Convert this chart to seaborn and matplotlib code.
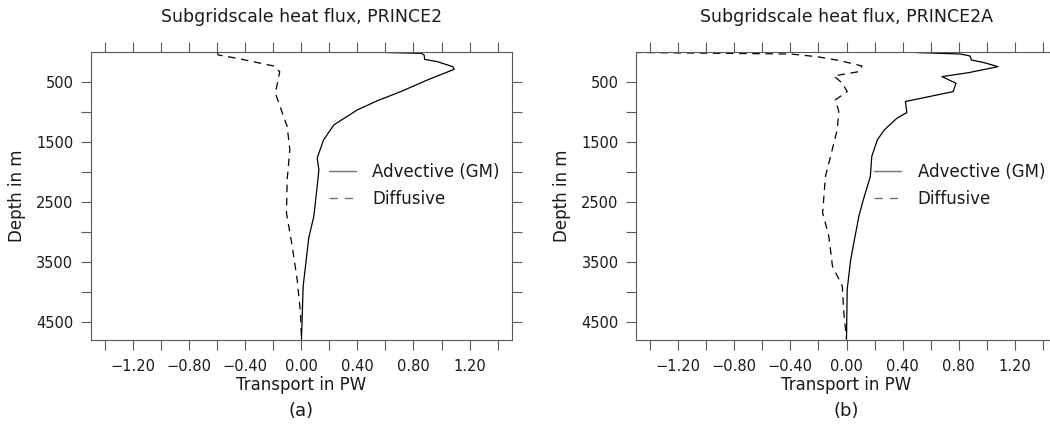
import matplotlib

matplotlib.use("Agg")

import matplotlib.pyplot as plt
import pandas as pd
import seaborn as sns
from matplotlib.lines import Line2D

# Panel (a) PRINCE2: depth (m) and transport (PW)
depth_a_adv = [5, 27, 55, 127, 166, 249, 293, 470, 664, 819, 969, 1218, 1467, 1688,
               1771, 1965, 2131, 2741, 3100, 3904, 4790]
flux_a_adv = [0.45, 0.855, 0.876, 0.88, 0.97, 1.08, 1.09, 0.90, 0.71, 0.54, 0.40, 0.233,
              0.16, 0.126, 0.114, 0.126, 0.119, 0.09, 0.054, 0.014, 0.002]
depth_a_dif = [5, 55, 110, 238, 332, 691, 1246, 1633, 2131, 2684, 3239, 3792, 4346, 4790]
flux_a_dif = [-0.60, -0.59, -0.457, -0.196, -0.153, -0.184, -0.10, -0.081, -0.10, -0.105,
              -0.064, -0.029, -0.005, 0.002]

# Panel (b) PRINCE2A
depth_b_adv = [5, 16, 38, 71, 138, 182, 249, 349, 415, 525, 664, 830, 1013, 1106, 1301,
               1467, 1744, 2076, 2464, 2741, 3460, 3958, 4790]
flux_b_adv = [0.45, 0.52, 0.81, 0.88, 0.89, 0.98, 1.08, 0.87, 0.68, 0.78, 0.76, 0.42, 0.43,
              0.36, 0.27, 0.22, 0.18, 0.17, 0.12, 0.088, 0.03, 0.005, 0.0]
depth_b_dif = [8, 38, 83, 150, 238, 332, 404, 525, 664, 802, 997, 1301, 1744, 2076, 2684,
               3073, 3571, 3904, 4346, 4790]
flux_b_dif = [-1.70, -0.40, -0.21, -0.043, 0.11, 0.088, -0.09, -0.03, 0.005, -0.079, -0.055,
              -0.066, -0.114, -0.15, -0.17, -0.126, -0.10, -0.03, -0.019, 0.0]

titles = ["Subgridscale heat flux, PRINCE2", "Subgridscale heat flux, PRINCE2A"]
panel_tags = ["(a)", "(b)"]
series_names = ["Advective (GM)", "Diffusive"]

x_ticks = [-1.4, -1.2, -1.0, -0.8, -0.6, -0.4, -0.2, 0.0, 0.2, 0.4, 0.6, 0.8, 1.0, 1.2, 1.4]
x_labels = ["", "\u22121.20", "", "\u22120.80", "", "\u22120.40", "", "0.00", "", "0.40",
            "", "0.80", "", "1.20", ""]
y_ticks = [500, 1000, 1500, 2000, 2500, 3000, 3500, 4000, 4500]
y_labels = ["500", "", "1500", "", "2500", "", "3500", "", "4500"]

sns.set_style("white")
plt.rcParams["font.family"] = ["DejaVu Sans"]
plt.rcParams["text.color"] = "0.1"

W, H = 1050, 434
fig = plt.figure(figsize=(W / 100, H / 100), dpi=100)
ax_h = 288.3
ax_w = 421
axes = [
    fig.add_axes([90.7 / W, 1 - 340 / H, ax_w / W, ax_h / H]),
    fig.add_axes([636 / W, 1 - 340 / H, ax_w / W, ax_h / H]),
]

panels = [
    (depth_a_adv, flux_a_adv, depth_a_dif, flux_a_dif),
    (depth_b_adv, flux_b_adv, depth_b_dif, flux_b_dif),
]

frame_col = "0.35"
for ax, (d_adv, f_adv, d_dif, f_dif), title, tag in zip(axes, panels, titles, panel_tags):
    adv = pd.DataFrame({"depth": d_adv, "flux": f_adv})
    dif = pd.DataFrame({"depth": d_dif, "flux": f_dif})
    sns.lineplot(data=adv, x="flux", y="depth", sort=False, estimator=None,
                 color="black", linewidth=0.9, ax=ax)
    sns.lineplot(data=dif, x="flux", y="depth", sort=False, estimator=None,
                 color="black", linewidth=0.9, dashes=False, ax=ax,
                 linestyle=(0, (6, 4.5)))

    ax.set_xlim(-1.5, 1.5)
    ax.set_ylim(4800, 0)
    ax.set_xticks(x_ticks)
    ax.set_xticklabels(x_labels)
    ax.set_yticks(y_ticks)
    ax.set_yticklabels(y_labels)
    ax.tick_params(axis="both", direction="out", length=7.5, width=0.8, color=frame_col,
                   labelsize=10.5, labelcolor="0.1", pad=6,
                   top=True, bottom=True, left=True, right=True)
    ax.tick_params(axis="y", pad=5)
    for sp in ax.spines.values():
        sp.set_visible(True)
        sp.set_color(frame_col)
        sp.set_linewidth(0.8)

    ax.set_xlabel("Transport in PW", fontsize=12, va="center", color="0.1")
    ax.xaxis.set_label_coords(0.5, -45 / ax_h)
    ax.set_ylabel("Depth in m", fontsize=12, va="center", color="0.1")
    ax.yaxis.set_label_coords(-74 / ax_w, 0.5)
    ax.text(0.5, 1 + 35 / ax_h, title, transform=ax.transAxes, ha="center", va="center",
            fontsize=12.5)
    ax.text(0.5, -71 / ax_h, tag, transform=ax.transAxes, ha="center", va="center",
            fontsize=13)

    handles = [
        Line2D([], [], color="0.45", linewidth=1.0),
        Line2D([], [], color="0.45", linewidth=1.0, linestyle=(0, (6, 5))),
    ]
    ax.legend(handles, series_names, loc="upper left", bbox_to_anchor=(0.566, 0.615),
              frameon=False, fontsize=12, handlelength=1.6, handletextpad=1.0,
              labelspacing=0.55, borderpad=0, borderaxespad=0)

fig.savefig("out.png", dpi=100)
